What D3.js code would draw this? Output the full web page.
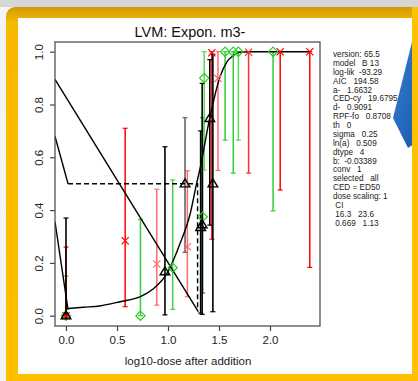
<!DOCTYPE html>
<html>
<head>
<meta charset="utf-8">
<script src="https://cdn.jsdelivr.net/npm/d3@7"></script>
<style>
  html, body { margin: 0; padding: 0; background: #ffffff; }
  svg { display: block; }
  text { font-family: "Liberation Sans", Arial, Helvetica, sans-serif; }
</style>
</head>
<body>
<script>
// ---- observed responses per group (log10 dose, mean, CI lower, CI upper) ----
const redDose = [0.0, 0.58, 0.89, 1.19, 1.43, 1.49, 1.79, 2.10, 2.39];
const redVal  = [0.0, 0.284, 0.196, 0.261, 0.996, 0.899, 0.998, 1.0, 1.0];
const redLo   = [0.0, 0.034, 0.040, 0.072, 0.290, 0.550, 0.540, 0.476, 0.183];
const redHi   = [0.26, 0.71, 0.479, 0.549, 1.0, 1.0, 1.0, 1.0, 1.0];
const redTone = ["#ff0000", "#ff0000", "#ff6a6a", "#ff6a6a", "#ff0000", "#ff6a6a", "#ff3030", "#ff0000", "#ff0000"];

const greenDose = [0.0, 0.73, 1.046, 1.34, 1.355, 1.56, 1.64, 1.69, 2.03];
const greenVal  = [0.0, 0.0, 0.182, 0.375, 0.90, 1.0, 1.0, 1.0, 1.0];
const greenLo   = [0.0, 0.0, 0.024, 0.086, 0.552, 0.665, 0.540, 0.665, 0.397];
const greenHi   = [0.15, 0.365, 0.514, 0.75, 1.0, 1.0, 1.0, 1.0, 1.0];
const greenTone = ["#22cc22", "#33cc33", "#44d044", "#1f8f1f", "#55dd55", "#33cc33", "#33cc33", "#55dd55", "#33cc33"];

const blackDose = [0.0, 0.97, 1.167, 1.32, 1.335, 1.41, 1.44];
const blackVal  = [0.0, 0.167, 0.50, 0.335, 0.345, 0.748, 0.50];
const blackLo   = [-0.01, 0.003, 0.24, 0.010, 0.005, 0.343, 0.015];
const blackHi   = [0.37, 0.64, 0.75, 0.70, 0.88, 0.97, 0.99];
const blackTone = ["#000000", "#000000", "#666666", "#000000", "#000000", "#000000", "#000000"];

// ---- fitted curve (log10 dose, response) ----
const fitDose = [0.02, 0.17, 0.33, 0.53, 0.73, 0.85, 0.99, 1.12, 1.22, 1.28, 1.31, 1.41, 1.51, 1.575, 1.64, 1.70, 1.80, 2.39];
const fitResp = [0.027, 0.032, 0.037, 0.053, 0.072, 0.10, 0.16, 0.275, 0.39, 0.50, 0.55, 0.75, 0.905, 0.96, 0.985, 0.998, 1.0, 1.0];

// ---- straight guide lines (log10 dose, response) ----
const lineADose = [-0.108, 1.297];
const lineAResp = [0.895, 0.015];
const lineBDose = [-0.108, 0.02];
const lineBResp = [0.68, 0.50];
const lineCDose = [-0.108, 0.02];
const lineCResp = [0.356, 0.022];

// ---- CED marker ----
const cedStart = 0.02;
const cedDose = 1.29;
const cedLevel = 0.5;
const cedFloor = 0.03;

// ---- axes ----
const xTicks = [0.0, 0.5, 1.0, 1.5, 2.0];
const yTicks = [0.0, 0.2, 0.4, 0.6, 0.8, 1.0];

const titleText = "LVM: Expon. m3-";
const xLabel = "log10-dose after addition";
const infoLines = [
  "version: 65.5",
  "model   B 13",
  "log-lik  -93.29",
  "AIC   194.58",
  "a-   1.6632",
  "CED-cy   19.6795",
  "d-   0.9091",
  "RPF-fo   0.8708",
  "th   0",
  "sigma   0.25",
  "ln(a)   0.509",
  "dtype   4",
  "b:  -0.03389",
  "conv   1",
  "selected   all",
  "CED = ED50",
  "dose scaling: 1",
  " CI",
  " 16.3   23.6",
  " 0.669   1.13"
];

const W = 418, H = 381;
const svg = d3.select("body").append("svg").attr("width", W).attr("height", H);

// ---- frame ----
const defs = svg.append("defs");
const topGrad = defs.append("linearGradient").attr("id", "frameGrad").attr("x1", 0).attr("y1", 0).attr("x2", 0).attr("y2", 1);
topGrad.append("stop").attr("offset", "0").attr("stop-color", "#cf9a06");
topGrad.append("stop").attr("offset", "0.04").attr("stop-color", "#f7b800");
topGrad.append("stop").attr("offset", "1").attr("stop-color", "#ffc000");

svg.append("rect").attr("x", 0).attr("y", 0).attr("width", W).attr("height", H).attr("fill", "#f4f4f4");
svg.append("rect").attr("x", 0).attr("y", 0).attr("width", W).attr("height", 7).attr("fill", "#d6d6d6");
svg.append("rect").attr("x", 6).attr("y", 7).attr("width", W - 6 + 10).attr("height", H - 7 + 10)
  .attr("rx", 9).attr("fill", "url(#frameGrad)");
svg.append("rect").attr("x", 18).attr("y", 18).attr("width", 412 - 18).attr("height", 374 - 18).attr("fill", "#ffffff");

// ---- plot region ----
const box = { left: 55, right: 320, top: 42, bottom: 326 };
const x = d3.scaleLinear().domain([0, 2]).range([66, 270]);
const y = d3.scaleLinear().domain([0, 1]).range([315.7, 51.7]);

defs.append("clipPath").attr("id", "plotClip").append("rect")
  .attr("x", box.left).attr("y", box.top)
  .attr("width", box.right - box.left).attr("height", box.bottom - box.top);

const plot = svg.append("g").attr("clip-path", "url(#plotClip)");

// error bars
function bars(dose, lo, hi, tone, width) {
  const g = plot.append("g");
  dose.forEach((d, i) => {
    const cx = x(d);
    g.append("line").attr("x1", cx).attr("x2", cx).attr("y1", y(lo[i])).attr("y2", y(hi[i]))
      .attr("stroke", tone[i]).attr("stroke-width", width);
    [lo[i], hi[i]].forEach(v => {
      g.append("line").attr("x1", cx - 2.5).attr("x2", cx + 2.5).attr("y1", y(v)).attr("y2", y(v))
        .attr("stroke", tone[i]).attr("stroke-width", 1.2);
    });
  });
}
bars(greenDose, greenLo, greenHi, greenTone, 1.5);
bars(redDose, redLo, redHi, redTone, 1.5);
bars(blackDose, blackLo, blackHi, blackTone, 1.6);

// straight lines and fitted curve
const line = d3.line().x(d => x(d[0])).y(d => y(d[1]));
const pairs = (a, b) => a.map((v, i) => [v, b[i]]);
[[lineADose, lineAResp], [lineBDose, lineBResp], [lineCDose, lineCResp]].forEach(([a, b]) => {
  plot.append("path").attr("d", line(pairs(a, b))).attr("fill", "none")
    .attr("stroke", "#000").attr("stroke-width", 1.4);
});
const smooth = d3.line().x(d => x(d[0])).y(d => y(d[1])).curve(d3.curveMonotoneX);
plot.append("path").attr("d", smooth(pairs(fitDose, fitResp)))
  .attr("fill", "none").attr("stroke", "#000").attr("stroke-width", 1.4);

// CED: dashed horizontal at the response level then down to the axis
plot.append("path")
  .attr("d", line([[cedStart, cedLevel], [cedDose, cedLevel], [cedDose, cedFloor]]))
  .attr("fill", "none").attr("stroke", "#000").attr("stroke-width", 1.4)
  .attr("stroke-dasharray", "5,3");

// markers
const marks = plot.append("g");
greenDose.forEach((d, i) => {
  marks.append("path").attr("transform", `translate(${x(d)},${y(greenVal[i])})`)
    .attr("d", "M0,-4.6L4.6,0L0,4.6L-4.6,0Z").attr("fill", "none")
    .attr("stroke", "#22cc22").attr("stroke-width", 1.2);
});
redDose.forEach((d, i) => {
  marks.append("path").attr("transform", `translate(${x(d)},${y(redVal[i])})`)
    .attr("d", "M-3.6,-3.6L3.6,3.6M-3.6,3.6L3.6,-3.6").attr("fill", "none")
    .attr("stroke", redTone[i]).attr("stroke-width", 1.2);
});
blackDose.forEach((d, i) => {
  marks.append("path").attr("transform", `translate(${x(d)},${y(blackVal[i])})`)
    .attr("d", "M0,-4.8L4.8,3.2L-4.8,3.2Z").attr("fill", "none")
    .attr("stroke", "#000").attr("stroke-width", 1.4);
});

// box
svg.append("rect").attr("x", box.left).attr("y", box.top)
  .attr("width", box.right - box.left).attr("height", box.bottom - box.top)
  .attr("fill", "none").attr("stroke", "#444").attr("stroke-width", 1.2);

// axes
const xAxis = svg.append("g").attr("transform", `translate(0,${box.bottom})`)
  .call(d3.axisBottom(x).tickValues(xTicks).tickFormat(d3.format(".1f")).tickSize(5).tickPadding(5));
xAxis.select(".domain").remove();
xAxis.selectAll("line").attr("stroke", "#444").attr("stroke-width", 1.2);
xAxis.selectAll("text").attr("font-size", 11.5).attr("fill", "#222");

const yAxis = svg.append("g").attr("transform", `translate(${box.left},0)`)
  .call(d3.axisLeft(y).tickValues(yTicks).tickFormat(d3.format(".1f")).tickSize(5).tickPadding(0));
yAxis.select(".domain").remove();
yAxis.selectAll("line").attr("stroke", "#444").attr("stroke-width", 1.2);
yAxis.selectAll("text").attr("font-size", 11.5).attr("fill", "#222")
  .attr("x", null).attr("y", 0).attr("dy", null)
  .attr("text-anchor", "middle")
  .attr("transform", "translate(-12,0) rotate(-90)");

// titles
svg.append("text").attr("x", 190).attr("y", 37).attr("text-anchor", "middle")
  .attr("font-size", 14.5).attr("fill", "#111").text(titleText);
svg.append("text").attr("x", 188).attr("y", 365).attr("text-anchor", "middle")
  .attr("font-size", 11.5).attr("fill", "#222").text(xLabel);

// parameter listing
const info = svg.append("g").attr("font-size", 8.2).attr("fill", "#222");
infoLines.forEach((t, i) => {
  info.append("text").attr("x", 333).attr("y", 57 + i * 8.88)
    .attr("xml:space", "preserve").style("white-space", "pre").text(t);
});

// callout arrow at the top right
const arrowGrad = defs.append("linearGradient").attr("id", "arrowGrad").attr("x1", 0).attr("y1", 0).attr("x2", 1).attr("y2", 1);
arrowGrad.append("stop").attr("offset", "0").attr("stop-color", "#3a7fd0");
arrowGrad.append("stop").attr("offset", "1").attr("stop-color", "#1559ad");
svg.append("path").attr("d", "M414,34L393,118L408,148L420,140L420,34Z").attr("fill", "url(#arrowGrad)");

// right edge of frame above the arrow
svg.append("rect").attr("x", 412).attr("y", 7).attr("width", 6).attr("height", H - 7).attr("fill", "#ffc000");
</script>
</body>
</html>
